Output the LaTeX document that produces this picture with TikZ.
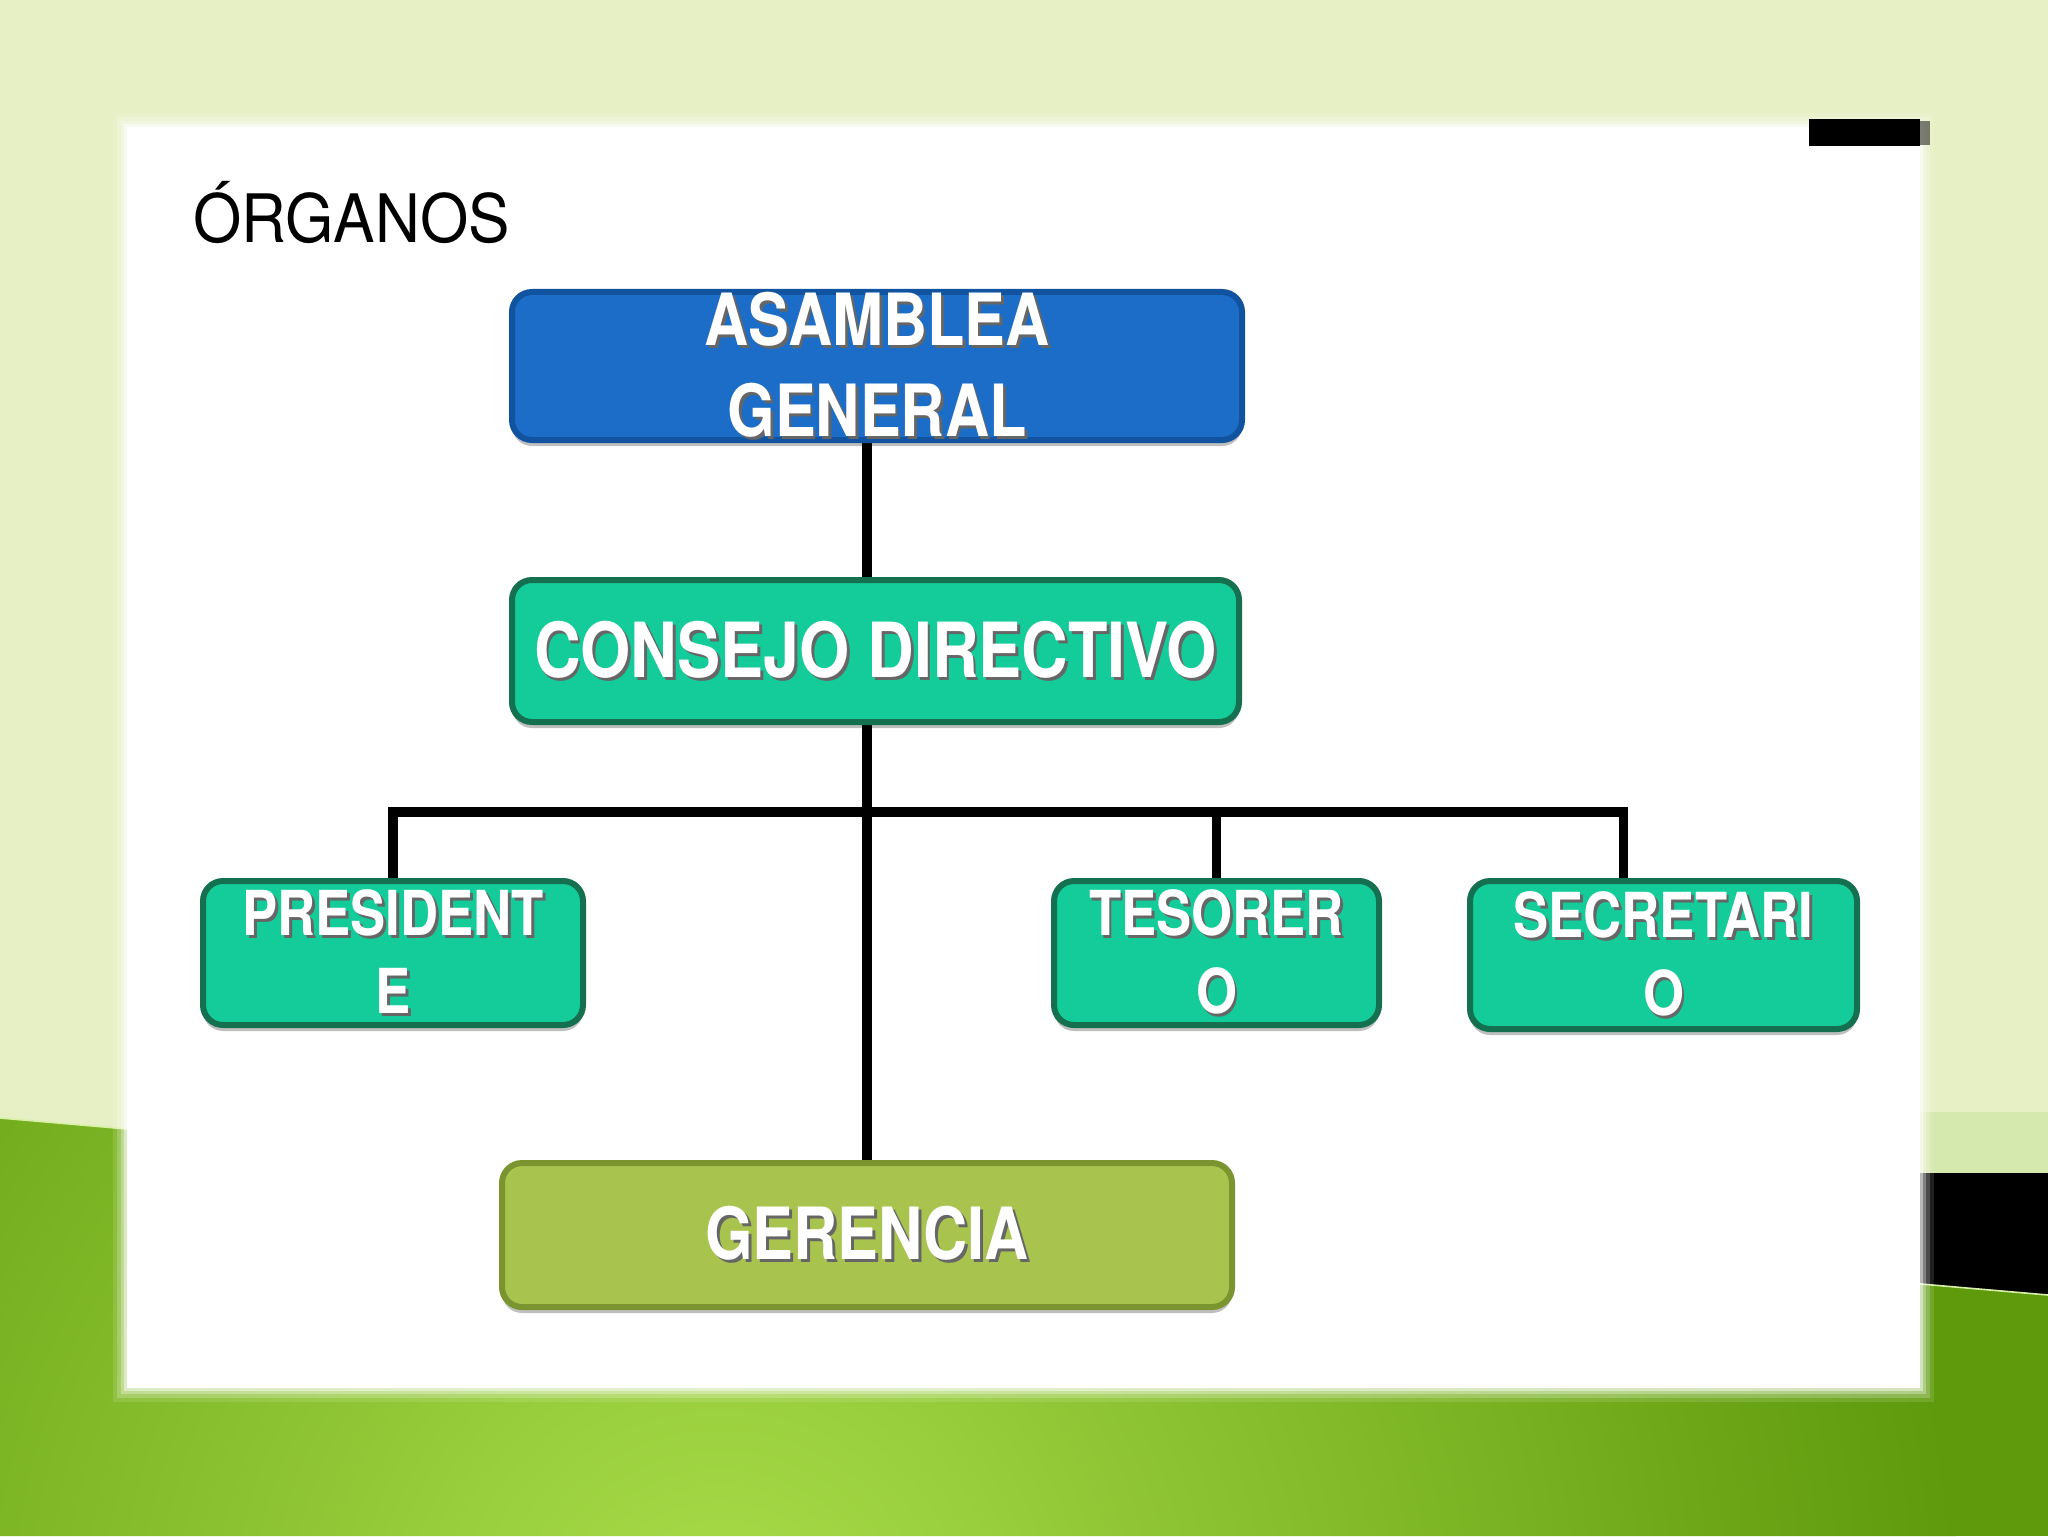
\documentclass[tikz,border=0pt]{standalone}
\usepackage{fontspec}
\newfontfamily\titlefont[FakeStretch=0.93]{TeX Gyre Heros}
\newfontfamily\boxfont[FakeStretch=0.85]{TeX Gyre Heros}
\usetikzlibrary{shadows}
\definecolor{bgtop}{HTML}{E6F0C4}
\definecolor{bgband}{HTML}{D5E8AE}
\definecolor{grdark}{HTML}{5E9A0C}
\definecolor{grlight}{HTML}{AADD4A}
\definecolor{grline}{HTML}{D9F0A8}
\definecolor{asbfill}{HTML}{1C6DC8}
\definecolor{asbdraw}{HTML}{12539F}
\definecolor{tealfill}{HTML}{13CC9A}
\definecolor{tealdraw}{HTML}{14704F}
\definecolor{gerfill}{HTML}{A9C44E}
\definecolor{gerdraw}{HTML}{7A9530}
\newcommand\shtxt[1]{\makebox[0pt][l]{\kern1.4pt\raisebox{-1.4pt}{\textcolor{black!60}{#1}}}#1}
\pgfdeclarelayer{back}
\pgfsetlayers{back,main}
\begin{document}
\begin{tikzpicture}[x=0.5pt,y=-0.5pt,
  box/.style={draw, line width=3pt, rounded corners=10pt, text=white, align=center, inner sep=0pt,
    drop shadow={shadow xshift=0pt, shadow yshift=-3pt, opacity=0.25, fill=black}},
  bluebox/.style={box, fill=asbfill, draw=asbdraw, minimum width=365pt, minimum height=72.5pt,
    font=\boxfont\bfseries\fontsize{36}{45.5}\selectfont},
  tealbig/.style={box, fill=tealfill, draw=tealdraw, minimum width=363.5pt, minimum height=71pt,
    font=\boxfont\bfseries\fontsize{38}{45}\selectfont},
  tealsmall/.style={box, fill=tealfill, draw=tealdraw, minimum height=72pt,
    font=\boxfont\bfseries\fontsize{31}{39}\selectfont},
  gerbox/.style={box, fill=gerfill, draw=gerdraw, minimum width=365pt, minimum height=72pt,
    font=\boxfont\bfseries\fontsize{36}{45}\selectfont},
  conn/.style={line width=4.75pt, black, line join=miter}
]
\useasboundingbox (0,0) rectangle (2048,1536);
\begin{pgfonlayer}{back}
  % background
  \fill[bgtop] (0,0) rectangle (2048,1536);
  \fill[bgband] (1400,1112) rectangle (2048,1180);
  \fill[black] (1400,1173) rectangle (2048,1310);
  \begin{scope}
    \clip (0,1118) -- (2048,1295) -- (2048,1536) -- (0,1536) -- cycle;
    \fill[grdark] (0,1100) rectangle (2048,1536);
    \shade[inner color=grlight, outer color=grdark] (720,1640) circle (620pt);
  \end{scope}
  \draw[grline, line width=0.8pt] (0,1118) -- (2048,1295);
  % white panel with soft edge
  \foreach \d/\o in {14/0.12,10/0.2,6/0.3,3/0.45}{
    \fill[white, opacity=\o] (127-\d,127-\d) rectangle (1920+\d,1388+\d);
  }
  \fill[white] (127,127) rectangle (1920,1388);
  % top-right dark bar
  \fill[black] (1809,119) rectangle (1920,146);
  \fill[black, opacity=0.5] (1920,121) rectangle (1930,145);
\end{pgfonlayer}

\node[anchor=base west, inner sep=0pt, font=\titlefont\fontsize{33.4}{40}\selectfont] (titulo) at (193,242) {ÓRGANOS};

\node[bluebox] (asamblea) at (877,366) {\shtxt{ASAMBLEA}\\\shtxt{GENERAL}};
\node[tealbig] (consejo) at (875.5,651) {\shtxt{CONSEJO DIRECTIVO}};
\node[tealsmall, minimum width=190pt] (presidente) at (393,953) {\shtxt{PRESIDENT}\\\shtxt{E}};
\node[tealsmall, minimum width=162.5pt] (tesorero) at (1216.5,953) {\shtxt{TESORER}\\\shtxt{O}};
\node[tealsmall, minimum width=193.5pt, minimum height=74pt] (secretario) at (1663.5,955) {\shtxt{SECRETARI}\\\shtxt{O}};
\node[gerbox] (gerencia) at (867,1235) {\shtxt{GERENCIA}};

\begin{pgfonlayer}{back}
  \coordinate (spine) at (gerencia.north);
  \coordinate (barra) at (866,812);
  \coordinate (secdrop) at ([xshift=-20pt]secretario.north);
  \draw[conn] (asamblea.south -| spine) -- (consejo.north -| spine);
  \draw[conn] (consejo.south -| spine) -- (gerencia.north);
  \draw[conn] (presidente.north) |- (barra) -| (secdrop);
  \draw[conn] (barra -| tesorero.north) -- (tesorero.north);
\end{pgfonlayer}
\end{tikzpicture}
\end{document}
